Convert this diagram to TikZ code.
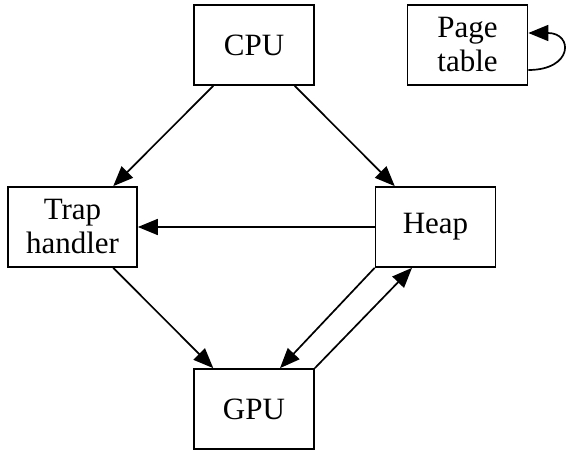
\documentclass[tikz,border=0pt]{standalone}
\usepackage{fontspec}
\setmainfont{Liberation Serif}
\usetikzlibrary{arrows.meta}
\begin{document}
\begin{tikzpicture}[x=1pt,y=1pt,
  box/.style={draw,line width=1.7pt,minimum width=120pt,minimum height=80pt,
    inner sep=0pt,align=center,font=\fontsize{31}{34}\selectfont},
  arr/.style={line width=1.7pt,-{Triangle[length=20pt,width=16pt]}}]
  \useasboundingbox (0,0) rectangle (567,453);
  \node[box] (cpu) at (254,408) {CPU};
  \node[box] (pt) at (467.5,408) {Page\\table};
  \node[box,minimum width=129pt] (trap) at (72.5,226) {Trap\\handler};
  \node[box] (heap) at (435.5,226) {Heap};
  \node[box] (gpu) at (254,44) {GPU};
  \draw[arr] (cpu) -- (trap);
  \draw[arr] (cpu) -- (heap);
  \draw[arr] (heap) -- (trap);
  \draw[arr] (trap) -- (gpu);
  \draw[arr] (heap.south west) -- ([xshift=26pt]gpu.north);
  \draw[arr] (gpu.north east) -- ([xshift=-23.5pt]heap.south);
  % loop on the page table
  \draw[arr] ([yshift=-25pt]pt.east) .. controls +(45,0) and +(45,0) .. ([yshift=12pt]pt.east);
\end{tikzpicture}
\end{document}
